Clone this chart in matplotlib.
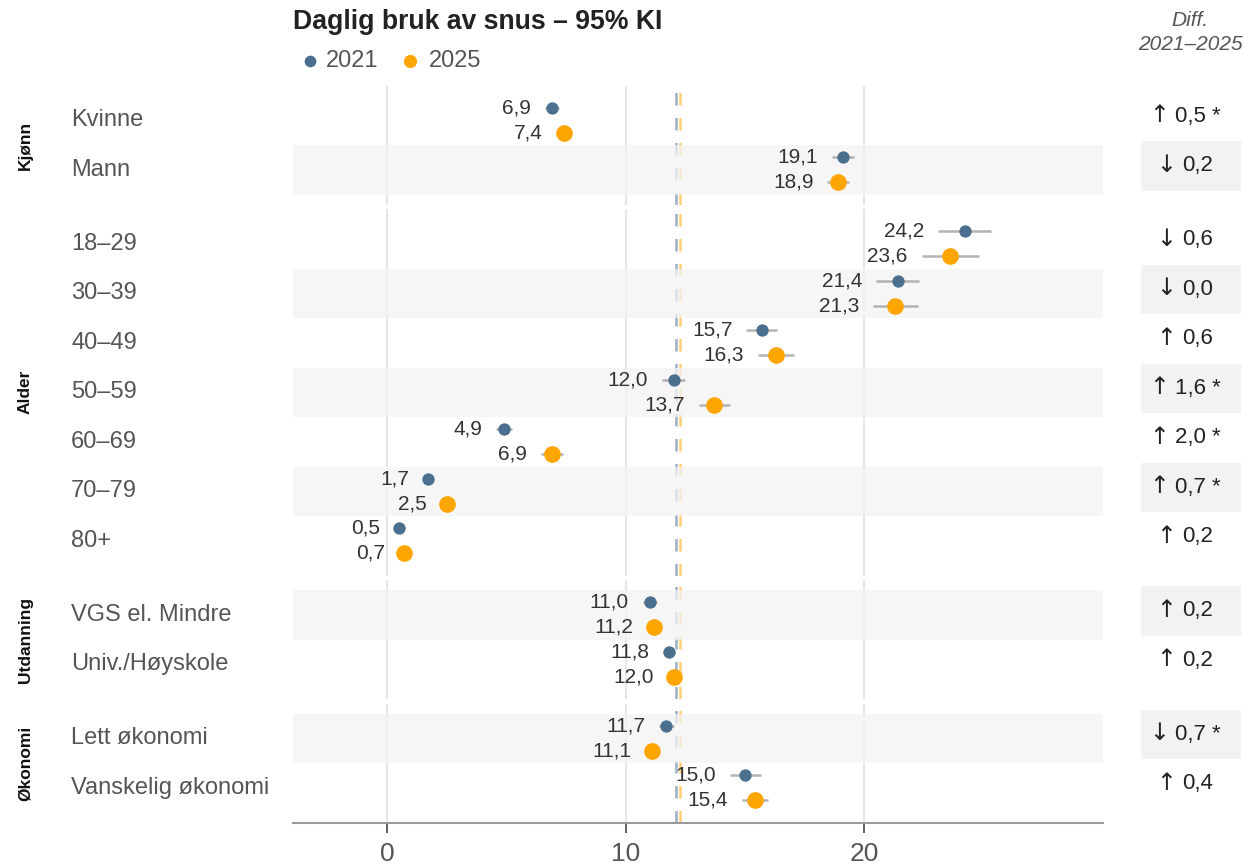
import matplotlib.pyplot as plt
import matplotlib.transforms as mtransforms
from matplotlib.patches import Rectangle
from matplotlib.lines import Line2D

plt.rcParams['font.family'] = ['Liberation Sans', 'DejaVu Sans']

# data
groups = ['Kjønn', 'Alder', 'Utdanning', 'Økonomi']
categories = [
    ['Kvinne', 'Mann'],
    ['18–29', '30–39', '40–49', '50–59', '60–69', '70–79', '80+'],
    ['VGS el. Mindre', 'Univ./Høyskole'],
    ['Lett økonomi', 'Vanskelig økonomi'],
]
val_2021 = [6.9, 19.1, 24.2, 21.4, 15.7, 12.0, 4.9, 1.7, 0.5, 11.0, 11.8, 11.7, 15.0]
val_2025 = [7.4, 18.9, 23.6, 21.3, 16.3, 13.7, 6.9, 2.5, 0.7, 11.2, 12.0, 11.1, 15.4]
ci_2021 = [0.3, 0.45, 1.1, 0.9, 0.65, 0.5, 0.35, 0.2, 0.2, 0.3, 0.25, 0.3, 0.65]
ci_2025 = [0.3, 0.45, 1.2, 0.95, 0.75, 0.65, 0.45, 0.25, 0.2, 0.3, 0.25, 0.3, 0.55]
diff_abs = [0.5, 0.2, 0.6, 0.0, 0.6, 1.6, 2.0, 0.7, 0.2, 0.2, 0.2, 0.7, 0.4]
diff_up = [True, False, False, False, True, True, True, True, True, True, True, False, True]
diff_sig = [True, False, False, False, False, True, True, True, False, False, False, True, False]
mean_2021 = 12.1
mean_2025 = 12.25
xticks = [0, 10, 20]

c21 = '#4a6f8f'
c25 = '#ffa500'

def fmt(v):
    return f'{v:.1f}'.replace('.', ',')

# layout in pixels
W, H = 1258, 868
fig = plt.figure(figsize=(W / 100, H / 100), dpi=100)
renderer = fig.canvas.get_renderer()
row_h, pad, gap = 49.5, 10, 4.5
left, right = 293, 1103
top = 85.5

idx = 0
axes = []
for g, cats in zip(groups, categories):
    n = len(cats)
    height = n * row_h + 2 * pad
    ax = fig.add_axes([left / W, 1 - (top + height) / H, (right - left) / W, height / H])
    top += height + gap
    axes.append(ax)
    ax.set_xlim(-3.95, 30)
    ax.set_ylim(n - 0.5 + pad / row_h, -0.5 - pad / row_h)
    for s in ax.spines.values():
        s.set_visible(False)
    ax.set_yticks([])
    ax.set_xticks(xticks)
    for t in xticks:
        ax.axvline(t, color='#e6e6e6', lw=1.5, zorder=0)
    ax.axvline(mean_2021, color=c21, alpha=0.55, lw=1.8, dashes=(5, 5), zorder=1)
    ax.axvline(mean_2025, color=c25, alpha=0.55, lw=1.8, dashes=(5, 5), zorder=1)

    bt = mtransforms.blended_transform_factory(fig.transFigure, ax.transData)
    ax.text(25 / W, (n - 1) / 2, g, transform=bt, rotation=90, ha='center', va='center',
            fontsize=12.5, fontweight='bold', color='#111')

    for j, cat in enumerate(cats):
        if idx % 2 == 1:
            ax.add_patch(Rectangle((-3.95, j - 0.5), 33.95, 1, facecolor='#f3f3f3',
                                   alpha=0.75, edgecolor='none', zorder=2))
            ax.add_patch(Rectangle((1141 / W, j - 0.5 - 0.08), 100 / W, 1, transform=bt,
                                   facecolor='#f2f2f2', edgecolor='none', clip_on=False, zorder=0))
        ax.text(71 / W, j, cat, transform=bt, ha='left', va='center', fontsize=17, color='#555')

        for v, ci, dy, col, ms in [(val_2021[idx], ci_2021[idx], -0.25, c21, 8.9),
                                   (val_2025[idx], ci_2025[idx], 0.25, c25, 12)]:
            ax.plot([v - ci, v + ci], [j + dy, j + dy], color='#b3b3b3', lw=1.8,
                    solid_capstyle='butt', zorder=3)
            ax.plot(v, j + dy, 'o', color=col, ms=ms, mec='none', zorder=4)
            ax.annotate(fmt(v), xy=(v - ci, j + dy), xytext=(-10, 0), textcoords='offset points',
                        ha='right', va='center', fontsize=15, color='#333', zorder=5)

        # diff column: number centred, arrow drawn just left of it
        txt = fmt(diff_abs[idx]) + (' *' if diff_sig[idx] else '')
        tn = ax.text(1198 / W, j - 0.08, txt, transform=bt, ha='center', va='center',
                     fontsize=16, color='#222')
        bb = tn.get_window_extent(renderer)
        arrow = '↑' if diff_up[idx] else '↓'
        ax.annotate(arrow, xy=(bb.x0 / W, j - 0.1), xycoords=bt, xytext=(-4.5, 0),
                    textcoords='offset points', ha='right', va='center',
                    fontsize=17, color='#222', family=['DejaVu Sans'])
        idx += 1

    ax.tick_params(bottom=False, labelbottom=False)

last = axes[-1]
last.spines['bottom'].set_visible(True)
last.spines['bottom'].set_color('#999999')
last.spines['bottom'].set_linewidth(1.5)
last.tick_params(bottom=True, labelbottom=True, length=7, width=1.2, color='#444',
                 labelsize=19, labelcolor='#555', pad=7)

# title, legend, diff header
fig.text(293 / W, 1 - 22 / H, 'Daglig bruk av snus – 95% KI', fontsize=19.2,
         fontweight='bold', color='#222', ha='left', va='center')
fig.add_artist(Line2D([310 / W], [1 - 61 / H], marker='o', color=c21, ms=8.4, mec='none',
                      transform=fig.transFigure))
fig.text(326 / W, 1 - 61 / H, '2021', fontsize=17, color='#555', ha='left', va='center')
fig.add_artist(Line2D([410 / W], [1 - 61 / H], marker='o', color=c25, ms=9.5, mec='none',
                      transform=fig.transFigure))
fig.text(429 / W, 1 - 61 / H, '2025', fontsize=17, color='#555', ha='left', va='center')

fig.text(1190 / W, 1 - 21 / H, 'Diff.', fontsize=15, style='italic', color='#555',
         ha='center', va='center')
fig.text(1190 / W, 1 - 44 / H, '2021–2025', fontsize=15, style='italic', color='#555',
         ha='center', va='center')

fig.savefig('out.png', dpi=100)
